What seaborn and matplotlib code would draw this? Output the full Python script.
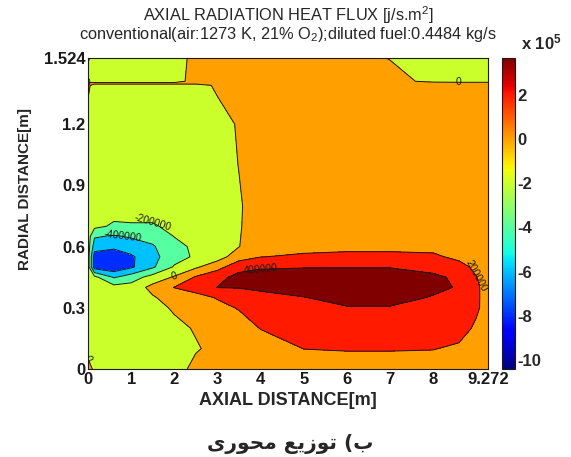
import numpy as np
import pandas as pd
import seaborn as sns
import matplotlib
matplotlib.use("Agg")
import matplotlib.pyplot as plt
from matplotlib.colors import Normalize
from matplotlib.cm import ScalarMappable

# ---------------- data ----------------
# grid nodes
x_axial = [0, 0.15, 0.6, 1.0, 1.5, 2.0, 2.5, 3.0, 3.5, 4.0, 5.0, 6.0, 7.0, 8.0, 8.6, 9.0, 9.272]
y_radial = [0, 0.1, 0.2, 0.3, 0.35, 0.4, 0.45, 0.5, 0.55, 0.6, 0.65, 0.7, 0.8, 1.0, 1.2,
            1.39, 1.40, 1.41, 1.524]

# axial radiation heat flux, units of 1e5 J/(s m2), one list per radial row
flux_r0000 = [1.0, -0.5, -1, -1, -1, -1, 0.67, 1.0, 1.0, 1.0, 1.2, 1.3, 1.3, 1.3, 1.2, 1.0, 1.0]
flux_r0100 = [-1, -1, -1, -1, -1, -1, -0.2, 0.6, 1.0, 1.2, 2.02, 2.1, 2.1, 2.05, 1.8, 1.3, 1.1]
flux_r0200 = [-1, -1, -1, -1, -1, -0.6, 0.2, 1.0, 1.3, 2.05, 2.6, 2.8, 2.8, 2.7, 2.5, 1.8, 1.3]
flux_r0300 = [-1, -1, -1, -1, -0.8, 0.3, 0.9, 1.6, 2.1, 2.8, 3.3, 3.9, 3.9, 3.4, 3.1, 2.2, 1.5]
flux_r0350 = [-1, -1, -1.1, -1.1, -0.2, 0.9, 1.5, 2.1, 2.8, 3.5, 3.95, 4.5, 4.5, 3.9, 3.5, 2.3, 1.3]
flux_r0400 = [-1, -1, -1.3, -1.2, 0.6, 2.05, 2.6, 4.05, 4.1, 4.3, 4.6, 5.0, 5.0, 4.3, 3.9, 2.3, 1.3]
flux_r0450 = [-1, -1.5, -4.2, -3.0, -1.2, 0.2, 2.2, 3.4, 4.6, 4.7, 4.9, 5.0, 5.0, 4.3, 3.7, 2.05, 1.3]
flux_r0500 = [-1, -7.0, -7.5, -6.3, -4.3, -1.8, -0.3, 1.3, 3.3, 3.8, 3.9, 3.9, 3.9, 3.5, 2.6, 1.6, 1.2]
flux_r0550 = [-1, -7.0, -7.5, -6.3, -4.6, -2.8, -1.7, -0.9, 1.13, 1.95, 2.3, 2.5, 2.5, 2.3, 1.6, 1.2, 1.0]
flux_r0600 = [-1, -5.0, -5.5, -5.0, -4.2, -2.6, -1.6, -1, -0.05, 1.3, 1.4, 1.5, 1.5, 1.5, 1.2, 1.0, 1.0]
flux_r0650 = [-1, -3.8, -4.2, -3.8, -3.3, -1.95, -1.4, -1, -0.1, 1.1, 1.2, 1.2, 1.2, 1.2, 1.1, 1.0, 1.0]
flux_r0700 = [-1, -1.5, -2.3, -2.2, -2.2, -1.5, -1.2, -1, -0.15, 1.0, 1.1, 1.1, 1.1, 1.1, 1.0, 1.0, 1.0]
flux_r0800 = [-1, -1, -1, -1, -1, -1, -1, -1, -0.2, 1, 1, 1, 1, 1, 1, 1, 1]
flux_r1000 = [-1, -1, -1, -1, -1, -1, -1, -1, 0.05, 1, 1, 1, 1, 1, 1, 1, 1]
flux_r1200 = [-1, -1, -1, -1, -1, -1, -1, -1, 0.25, 1, 1, 1, 1, 1, 1, 1, 1]
flux_r1390 = [0.5, -1, -1, -1, -1, -1, -1, 0.4, 1, 1, 1, 1, 1, 1, 1, 1, 1]
flux_r1400 = [0.6, 0.6, 0.6, 0.6, 0.6, 0.6, 0.6, 0.7, 1, 1, 1, 1, 1, 1, 1, 1, 1]
flux_r1410 = [-1, -1, -1, -1, -1, -1, 1, 1, 1, 1, 1, 1, 1, -0.7, -1, -1, -1]
flux_r1524 = [0.3, -1, -1, -1, -1, -1, 0.67, 1, 1, 1, 1, 1, -0.1, -1, -1, -1, -1]

flux_rows = [flux_r0000, flux_r0100, flux_r0200, flux_r0300, flux_r0350, flux_r0400,
             flux_r0450, flux_r0500, flux_r0550, flux_r0600, flux_r0650, flux_r0700,
             flux_r0800, flux_r1000, flux_r1200, flux_r1390, flux_r1400, flux_r1410,
             flux_r1524]

levels_e5 = [-10.4, -8, -6, -4, -2, 0, 2, 4, 6]
clim_e5 = (-10.4, 3.66)
cbar_ticks_e5 = [-10, -8, -6, -4, -2, 0, 2]
x_ticks = [0, 1, 2, 3, 4, 5, 6, 7, 8, 9.272]
x_ticklabels = ["0", "1", "2", "3", "4", "5", "6", "7", "8", "9.272"]
y_ticks = [0, 0.3, 0.6, 0.9, 1.2, 1.524]
y_ticklabels = ["0", "0.3", "0.6", "0.9", "1.2", "1.524"]

title_1 = "AXIAL RADIATION HEAT FLUX [j/s.m$^2$]"
title_2 = "conventional(air:1273 K, 21% O$_2$);diluted fuel:0.4484 kg/s"
xlabel = "AXIAL DISTANCE[m]"
ylabel = "RADIAL DISTANCE[m]"
# Persian caption "ب) توزیع محوری", written in visual order with Arabic presentation forms
caption = "\uFEEF\uFEAD\uFEEE\uFEA4\uFEE3 \uFECA\uFEF3\uFEAF\uFEEE\uFE97 (\uFE8F"

# ---------------- plot ----------------
sns.set_theme(style="ticks")
plt.rcParams['font.family'] = ['Liberation Sans', 'DejaVu Sans']
plt.rcParams['mathtext.fontset'] = 'custom'
plt.rcParams['mathtext.rm'] = 'Liberation Sans'
plt.rcParams['mathtext.it'] = 'Liberation Sans'
plt.rcParams['mathtext.bf'] = 'Liberation Sans:bold'
plt.rcParams['contour.negative_linestyle'] = 'solid'

df = pd.DataFrame(flux_rows, index=y_radial, columns=x_axial)
X, Y = np.meshgrid(df.columns.values.astype(float), df.index.values.astype(float))
Z = df.values * 1e5

W, H = 571, 457
fig = plt.figure(figsize=(W / 100, H / 100), dpi=100)
fig.patch.set_facecolor("white")
ax = fig.add_axes([88 / W, 1 - 369 / H, 400 / W, 311 / H])
cax = fig.add_axes([502 / W, 1 - 369 / H, 13 / W, 311 / H])

cmap = matplotlib.colormaps["jet"]
norm = Normalize(vmin=clim_e5[0] * 1e5, vmax=clim_e5[1] * 1e5, clip=True)
levels = np.array(levels_e5) * 1e5
band_colors = [cmap(norm(lv)) for lv in levels[:-1]]

ax.contourf(X, Y, Z, levels=levels, colors=band_colors)
line_levels = levels[1:-1]
cs = ax.contour(X, Y, Z, levels=line_levels, colors="k", linewidths=0.7,
                linestyles="solid")
ax.clabel(cs, fmt=lambda v: f"{v:.0f}", fontsize=7.5, inline=False, colors="k")

ax.set_xlim(0, 9.272)
ax.set_ylim(0, 1.524)
ax.set_xticks(x_ticks)
ax.set_xticklabels(x_ticklabels)
ax.set_yticks(y_ticks)
ax.set_yticklabels(y_ticklabels)
ax.tick_params(direction="in", top=True, right=True, length=4, width=0.6,
               labelsize=12, pad=2, colors="k")
for t in ax.get_xticklabels() + ax.get_yticklabels():
    t.set_fontweight("bold")
for s in ax.spines.values():
    s.set_linewidth(0.8)
    s.set_color("k")
ax.set_xlabel(xlabel, fontsize=13, fontweight="bold", labelpad=4)
ax.set_ylabel(ylabel, fontsize=11, fontweight="bold")
ax.yaxis.set_label_coords(-0.14, 0.58)

sm = ScalarMappable(norm=norm, cmap=cmap)
cb = fig.colorbar(sm, cax=cax, ticks=np.array(cbar_ticks_e5) * 1e5)
cb.ax.set_yticklabels([str(v) for v in cbar_ticks_e5])
cb.ax.tick_params(direction="in", length=3, width=0.6, labelsize=12, pad=2)
for t in cb.ax.get_yticklabels():
    t.set_fontweight("bold")
cb.outline.set_linewidth(0.8)
cb.outline.set_edgecolor("k")

fig.text(288 / W, 1 - 15 / H, title_1, ha="center", va="center", fontsize=11.8)
fig.text(288 / W, 1 - 34 / H, title_2, ha="center", va="center", fontsize=11.8)
fig.text(541 / W, 1 - 42 / H, "x 10$^{\\mathbf{5}}$", ha="center", va="center",
         fontsize=12, fontweight="bold")
fig.text(290 / W, 1 - 444 / H, caption, ha="center", va="center", fontsize=14.5,
         family="DejaVu Sans", fontweight="bold")

fig.savefig("out.png", dpi=100, facecolor="white")
